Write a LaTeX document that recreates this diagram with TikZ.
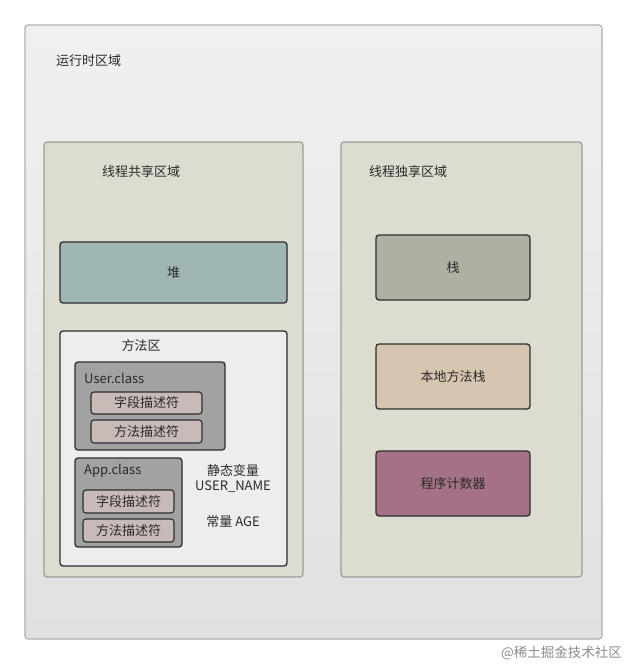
\documentclass[tikz,border=0pt]{standalone}
\usepackage{fontspec}
\setmainfont{Noto Sans CJK SC}
\usetikzlibrary{positioning}
\definecolor{outertop}{HTML}{F0F0F0}
\definecolor{outerbot}{HTML}{E0E1E1}
\definecolor{regionfill}{HTML}{DCDCD0}
\definecolor{regionline}{HTML}{9C9C98}
\definecolor{heapfill}{HTML}{9FB6B4}
\definecolor{stackfill}{HTML}{ADB1A3}
\definecolor{nativefill}{HTML}{D6C5AF}
\definecolor{pcfill}{HTML}{A47186}
\definecolor{methodfill}{HTML}{EDEDED}
\definecolor{classfill}{HTML}{A2A2A2}
\definecolor{descfill}{HTML}{C8BAB6}
\definecolor{darkline}{HTML}{2E2E2E}
\definecolor{txt}{HTML}{2A2A2A}
\tikzset{
  region/.style={draw=regionline, line width=1.2pt, fill=regionfill, rounded corners=3pt},
  solidbox/.style={draw=darkline, line width=1.3pt, rounded corners=3pt},
  label/.style={text=txt, font=\fontsize{13}{15}\selectfont, inner sep=0pt},
  desc/.style={draw=darkline, line width=1.1pt, fill=descfill, rounded corners=3pt},
}
\begin{document}
\begin{tikzpicture}[x=1pt,y=-1pt]
\useasboundingbox (0,0) rectangle (627,665);
\fill[white] (0,0) rectangle (627,665);
% outer
\shade[top color=outertop, bottom color=outerbot, rounded corners=3pt] (25,25) rectangle (602,639);
\draw[draw=regionline!80, line width=1.2pt, rounded corners=3pt] (25,25) rectangle (602,639);
\node[label, anchor=west] (runtime) at (56,61) {运行时区域};
% shared region
\draw[region] (44,142) rectangle (303,577);
\node[label, anchor=west] (shared) at (102,172) {线程共享区域};
\draw[solidbox, fill=heapfill] (60,242) rectangle (287,303);
\node[label] (heap) at (173.5,272.5) {堆};
% method area
\draw[solidbox, fill=methodfill] (60,331) rectangle (287,566);
\node[label] (method) at (141,346) {方法区};
% User.class
\draw[solidbox, fill=classfill] (75,362) rectangle (225,450);
\node[label, anchor=west] (user) at (84,378) {User.class};
\draw[desc] (91,392) rectangle (202,414);
\node[label] (ufield) at (146.5,403) {字段描述符};
\draw[desc] (91,420) rectangle (202,443);
\node[label] (umethod) at (146.5,431.5) {方法描述符};
% App.class
\draw[solidbox, fill=classfill] (75,458) rectangle (182,547);
\node[label, anchor=west] (app) at (84,471) {App.class};
\draw[desc] (83,490) rectangle (174,513);
\node[label] (afield) at (128.5,501.5) {字段描述符};
\draw[desc] (83,519) rectangle (174,542);
\node[label] (amethod) at (128.5,530.5) {方法描述符};
\node[label] (static) at (233,471) {静态变量};
\node[label] (username) at (233,487) {USER\_NAME};
\node[label] (const) at (233,522) {常量 AGE};
% private region
\draw[region] (341,142) rectangle (582,577);
\node[label, anchor=west] (private) at (369,172) {线程独享区域};
\draw[solidbox, fill=stackfill] (376,235) rectangle (530,300);
\node[label] (stack) at (453,267.5) {栈};
\draw[solidbox, fill=nativefill] (376,344) rectangle (530,409);
\node[label] (native) at (453,376.5) {本地方法栈};
\draw[solidbox, fill=pcfill] (376,451) rectangle (530,516);
\node[label] (pc) at (453,483.5) {程序计数器};
% watermark
\node[text=black!45, font=\fontsize{13.5}{15}\selectfont, inner sep=0pt, anchor=east] (wm) at (622,653) {@稀土掘金技术社区};
\end{tikzpicture}
\end{document}
